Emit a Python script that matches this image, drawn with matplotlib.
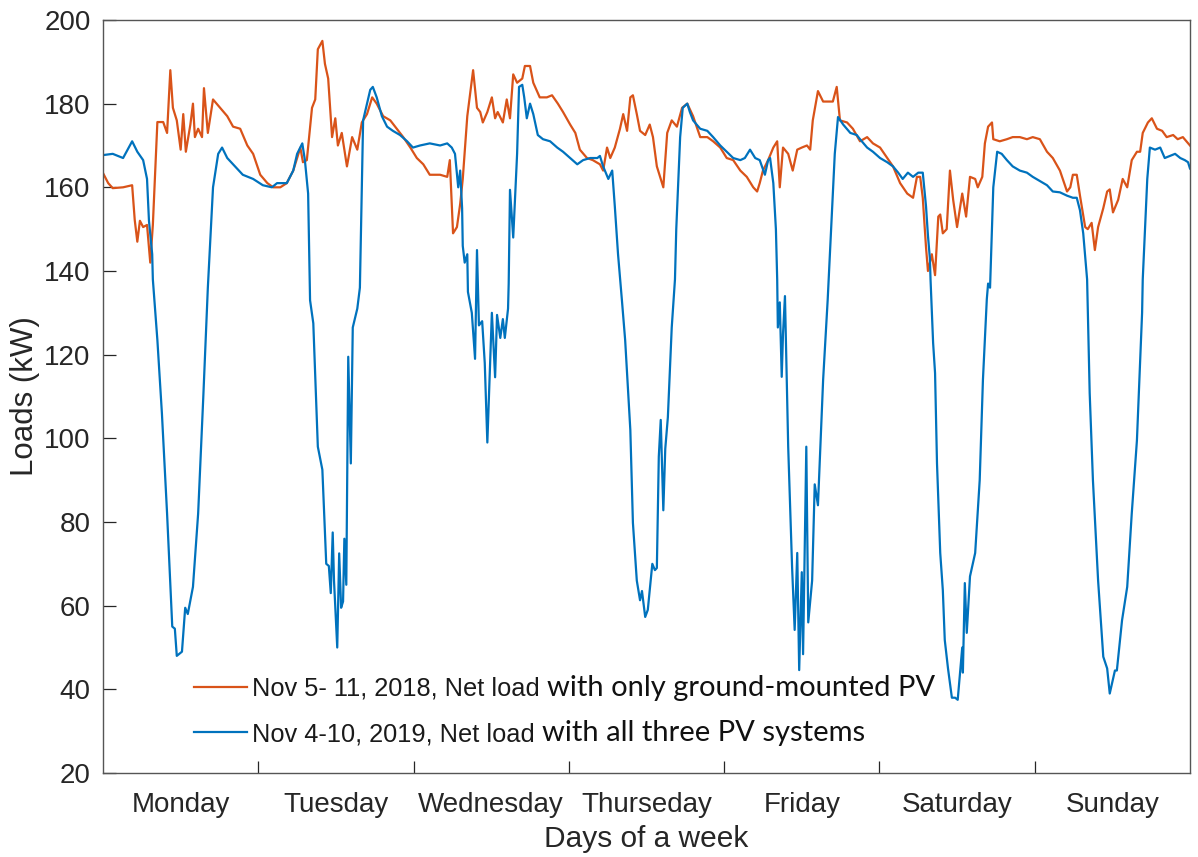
import matplotlib
matplotlib.use('Agg')
from matplotlib import pyplot as plt

# hours since Monday 00:00 and net load (kW)
hours_2018 = [0.0, 0.8, 1.5, 3.1, 4.5, 4.9, 5.3, 5.7, 6.2, 6.8, 7.3, 7.7, 8.4, 9.3, 9.9,
              10.4, 10.8, 11.4, 12.0, 12.4, 12.8, 13.5, 13.9, 14.2, 14.7, 15.3, 15.6, 16.2, 17.0, 18.1,
              19.2, 20.1, 21.2, 22.3, 23.2, 24.3, 25.4, 26.3, 27.4, 28.4, 29.4, 30.5, 30.9, 31.5, 32.3,
              32.8, 33.2, 33.9, 34.3, 34.8, 35.4, 35.9, 36.3, 36.9, 37.7, 38.5, 39.3, 40.0, 40.8, 41.6,
              42.3, 43.3, 44.4, 45.4, 46.4, 47.5, 48.5, 49.5, 50.5, 52.1, 53.2, 53.6, 54.1, 54.7, 55.2,
              55.6, 56.3, 57.2, 57.8, 58.3, 58.7, 59.4, 60.1, 60.6, 61.0, 61.8, 62.4, 62.9, 63.4, 64.0,
              64.8, 65.2, 66.0, 66.5, 67.5, 68.6, 69.4, 70.3, 71.1, 72.2, 73.0, 73.7, 74.8, 75.7, 76.8,
              77.3, 77.9, 78.4, 79.1, 79.9, 80.4, 81.0, 81.5, 81.9, 82.5, 83.0, 83.8, 84.5, 85.0, 85.6,
              86.1, 86.6, 87.2, 87.9, 88.7, 89.5, 90.3, 91.2, 92.3, 93.4, 94.3, 95.4, 96.4, 97.4, 98.5,
              99.5, 100.5, 101.1, 101.5, 102.0, 102.8, 103.6, 104.2, 104.6, 105.1, 105.9, 106.6, 107.3, 108.0, 108.8,
              109.3, 109.7, 110.5, 111.3, 112.1, 112.8, 113.4, 113.9, 115.0, 115.9, 117.0, 118.1, 119.0, 120.1, 121.2,
              122.1, 123.2, 124.3, 125.2, 125.8, 126.3, 126.7, 127.2, 127.5, 128.1, 128.6, 129.1, 129.4, 129.8, 130.4,
              130.9, 131.4, 132.0, 132.8, 133.4, 134.0, 134.8, 135.2, 135.9, 136.3, 136.8, 137.4, 137.6, 138.6, 139.7,
              140.6, 141.7, 142.8, 143.7, 144.8, 145.9, 146.8, 147.9, 149.0, 149.5, 149.9, 150.5, 151.0, 151.8, 152.2,
              152.8, 153.3, 153.8, 154.6, 155.2, 155.6, 156.1, 156.9, 157.6, 158.3, 159.0, 159.8, 160.3, 160.7, 161.5,
              162.1, 162.9, 163.7, 164.4, 165.4, 166.1, 166.9, 168.0]
load_2018 = [163.4, 161.0, 159.8, 160.0, 160.5, 152.2, 147.0, 152.0, 150.5, 151.0, 142.0, 151.0, 175.6, 175.6, 173.0,
             188.0, 179.0, 176.0, 169.0, 177.5, 168.5, 175.0, 180.0, 172.0, 174.0, 172.0, 183.7, 173.0, 181.0, 179.0,
             177.0, 174.5, 174.0, 170.0, 168.0, 163.0, 161.0, 160.0, 160.0, 161.0, 164.0, 169.5, 166.0, 166.5, 179.0,
             181.0, 193.0, 195.0, 189.5, 186.0, 172.0, 176.5, 170.0, 173.0, 165.0, 172.0, 169.0, 175.5, 177.5, 181.5,
             180.0, 177.0, 176.0, 174.0, 172.0, 169.5, 167.0, 165.5, 163.0, 163.0, 162.5, 166.5, 149.0, 150.5, 156.0,
             162.0, 177.0, 188.0, 179.0, 178.0, 175.5, 178.0, 181.5, 176.5, 178.0, 175.5, 181.0, 176.5, 187.0, 185.0,
             186.0, 189.0, 189.0, 185.0, 181.5, 181.5, 182.0, 180.0, 178.0, 175.0, 173.0, 169.0, 167.0, 166.5, 165.5,
             164.0, 169.5, 167.0, 169.5, 174.0, 177.5, 173.5, 181.5, 182.0, 177.5, 173.5, 172.5, 175.0, 172.0, 165.0,
             162.5, 160.0, 173.0, 176.0, 174.5, 179.0, 180.0, 177.0, 172.0, 172.0, 171.0, 169.5, 167.0, 166.5, 164.0,
             162.5, 160.0, 159.0, 161.0, 164.0, 166.5, 169.5, 171.0, 160.0, 169.5, 168.0, 164.0, 169.0, 169.5, 170.0,
             169.0, 176.0, 183.0, 180.5, 180.5, 180.5, 184.0, 176.0, 175.5, 174.0, 171.0, 172.0, 170.5, 169.5, 167.0,
             165.0, 161.0, 158.5, 157.5, 162.5, 162.5, 157.5, 145.7, 140.0, 144.0, 139.0, 153.0, 153.5, 149.0, 150.0,
             164.0, 157.0, 150.5, 158.5, 153.0, 162.5, 162.0, 160.0, 162.5, 170.5, 174.5, 175.5, 171.5, 171.0, 171.5,
             172.0, 172.0, 171.5, 172.0, 171.5, 168.5, 167.0, 164.0, 159.0, 160.0, 163.0, 163.0, 158.0, 150.5, 150.0,
             151.5, 145.0, 150.5, 155.0, 159.0, 159.5, 154.0, 157.0, 162.0, 160.0, 166.5, 168.5, 168.5, 173.0, 175.5,
             176.5, 174.0, 173.5, 172.0, 172.5, 171.5, 172.0, 170.0]

hours_2019 = [0.0, 1.5, 3.1, 4.5, 5.3, 6.2, 6.8, 7.1, 7.6, 7.7, 8.4, 9.1, 9.9, 10.7, 11.1,
              11.4, 12.2, 12.7, 13.1, 13.9, 14.7, 15.5, 16.2, 17.0, 17.8, 18.4, 19.2, 20.1, 21.6, 23.2,
              24.7, 26.1, 26.9, 28.4, 29.4, 30.0, 30.8, 31.2, 31.7, 32.0, 32.5, 33.2, 33.9, 34.5, 34.9,
              35.2, 35.5, 35.7, 36.2, 36.5, 36.8, 37.1, 37.3, 37.6, 37.9, 38.3, 38.6, 39.3, 39.7, 40.2,
              40.8, 41.3, 41.7, 42.3, 43.1, 43.9, 44.8, 45.9, 47.0, 47.9, 49.0, 50.5, 52.1, 53.2, 53.9,
              54.4, 54.9, 55.2, 55.5, 55.6, 55.9, 56.3, 56.4, 57.0, 57.5, 57.8, 58.1, 58.6, 59.0, 59.4,
              60.1, 60.6, 60.9, 61.4, 61.8, 62.1, 62.6, 62.7, 62.9, 63.4, 64.0, 64.3, 64.8, 65.1, 65.5,
              66.0, 66.5, 67.2, 68.0, 69.1, 70.2, 71.1, 72.2, 73.3, 74.2, 75.3, 76.4, 76.8, 77.3, 78.1,
              78.7, 79.1, 79.6, 80.2, 80.7, 81.5, 81.9, 82.5, 83.0, 83.3, 83.8, 84.2, 84.9, 85.3, 85.6,
              85.9, 86.2, 86.6, 86.9, 87.3, 87.9, 88.4, 88.6, 89.2, 89.6, 90.3, 90.7, 91.2, 92.3, 93.4,
              94.3, 95.4, 96.4, 97.4, 98.5, 99.2, 100.0, 100.8, 101.5, 102.3, 102.8, 103.1, 103.6, 104.0, 104.2,
              104.3, 104.6, 104.9, 105.1, 105.4, 105.9, 106.5, 106.9, 107.3, 107.6, 108.0, 108.2, 108.7, 109.0, 109.6,
              110.0, 110.5, 111.3, 112.0, 113.1, 113.6, 114.4, 115.5, 116.5, 117.0, 118.1, 119.0, 120.1, 121.2, 122.1,
              122.9, 123.6, 124.4, 125.2, 126.0, 126.7, 127.2, 127.5, 127.8, 127.9, 128.3, 128.6, 128.9, 129.4, 129.8,
              130.1, 130.6, 131.2, 131.7, 132.1, 132.8, 132.9, 133.2, 133.5, 134.0, 134.8, 135.5, 136.0, 136.6, 136.8,
              137.1, 137.6, 138.2, 138.9, 139.7, 140.6, 141.7, 142.8, 143.7, 144.8, 145.9, 146.8, 147.9, 149.0, 149.9,
              150.5, 151.0, 151.5, 152.1, 152.5, 153.0, 153.8, 154.6, 155.2, 155.6, 156.4, 156.7, 157.5, 158.3, 159.0,
              159.8, 160.6, 160.7, 161.4, 161.8, 162.6, 163.4, 164.1, 164.9, 165.7, 166.5, 167.2, 167.7, 168.0]
load_2019 = [167.7, 168.0, 167.0, 171.0, 168.5, 166.5, 162.0, 152.0, 144.0, 138.0, 123.5, 106.0, 82.0, 55.0, 54.5,
             48.0, 49.0, 59.5, 58.0, 64.5, 82.0, 110.0, 136.0, 160.0, 168.0, 169.5, 167.0, 165.5, 163.0, 162.0,
             160.5, 160.0, 161.0, 161.0, 164.0, 168.0, 170.5, 166.5, 158.5, 133.0, 127.5, 98.0, 92.5, 70.0, 69.5,
             63.0, 77.5, 66.0, 50.0, 72.5, 59.5, 61.0, 76.0, 65.0, 119.5, 94.0, 126.5, 131.0, 136.0, 176.0,
             180.0, 183.3, 184.0, 181.5, 177.0, 174.5, 173.5, 172.5, 171.0, 169.5, 170.0, 170.5, 170.0, 170.5, 169.5,
             168.0, 160.0, 164.0, 155.0, 146.0, 142.0, 144.0, 135.0, 130.0, 119.0, 145.0, 127.0, 128.0, 118.0, 99.0,
             130.0, 114.6, 129.5, 124.0, 128.5, 124.0, 131.0, 137.0, 159.4, 148.0, 168.0, 184.0, 184.5, 181.5, 176.5,
             180.0, 177.5, 172.5, 171.5, 171.0, 169.5, 168.5, 167.0, 165.5, 166.5, 167.0, 167.0, 167.5, 165.0, 162.0,
             164.0, 155.5, 144.0, 133.0, 123.5, 102.0, 79.8, 66.0, 61.3, 63.5, 57.3, 59.0, 70.0, 68.5, 69.0,
             95.6, 104.4, 82.8, 97.5, 105.0, 126.5, 138.0, 150.0, 172.0, 179.0, 180.0, 178.0, 176.0, 174.0, 173.5,
             172.0, 170.0, 168.5, 167.0, 166.5, 167.0, 169.0, 167.0, 166.5, 163.0, 166.5, 167.0, 161.0, 150.0, 138.0,
             126.5, 132.5, 114.7, 125.0, 134.0, 98.0, 69.3, 54.2, 72.6, 44.6, 68.0, 48.4, 98.0, 56.0, 66.0,
             89.0, 84.0, 114.0, 133.0, 168.0, 176.8, 175.0, 173.0, 172.5, 171.5, 169.5, 168.5, 167.0, 166.0, 165.0,
             163.5, 162.0, 163.5, 162.5, 163.5, 163.5, 155.5, 148.5, 143.0, 138.0, 122.8, 115.6, 94.0, 72.6, 63.7,
             51.8, 45.0, 38.0, 38.0, 37.5, 50.0, 44.0, 65.4, 53.5, 67.0, 72.6, 90.0, 114.0, 133.3, 137.0,
             136.0, 160.0, 168.5, 168.0, 166.5, 165.0, 164.0, 163.5, 162.5, 161.5, 160.5, 159.0, 158.8, 158.0, 157.5,
             157.5, 154.5, 149.0, 138.0, 110.8, 90.0, 66.0, 47.8, 45.0, 39.0, 44.5, 44.5, 56.5, 64.5, 82.0,
             99.5, 130.0, 138.0, 162.0, 169.5, 169.0, 169.5, 167.0, 167.5, 168.0, 167.0, 166.5, 166.0, 164.5]

days = ['Monday', 'Tuesday', 'Wednesday', 'Thurseday', 'Friday', 'Saturday', 'Sunday']
label_2018 = ('Nov 5- 11, 2018, Net load', 'with only ground-mounted PV')
label_2019 = ('Nov 4-10, 2019, Net load', 'with all three PV systems')

ORANGE = '#D95319'
BLUE = '#0072BD'
AX_COL = '#262626'

plt.rcParams['font.family'] = ['Liberation Sans', 'DejaVu Sans']

fig = plt.figure(figsize=(11.98, 8.57), dpi=100)
ax = fig.add_axes([0.086, 0.098, 0.9073, 0.8787])

ax.plot(hours_2018, load_2018, color=ORANGE, linewidth=1.6, label=label_2018[0])
ax.plot(hours_2019, load_2019, color=BLUE, linewidth=1.6, label=label_2019[0])

ax.set_xlim(0, 168)
ax.set_ylim(20, 200)
ax.set_yticks(range(20, 201, 20))

# day boundaries as major ticks, day names centred as minor tick labels
ax.set_xticks([24 * i for i in range(1, 7)])
ax.set_xticklabels([])
ax.set_xticks([24 * i + 12 for i in range(7)], minor=True)
ax.set_xticklabels(days, minor=True)
ax.tick_params(axis='x', which='minor', length=0, pad=14, labelsize=20, labelcolor=AX_COL)
ax.tick_params(axis='x', which='major', direction='in', length=9, width=0.9, color=AX_COL)
ax.tick_params(axis='y', direction='in', length=9, width=0.9, color=AX_COL,
               labelsize=20, labelcolor=AX_COL, pad=9)

for s in ax.spines.values():
    s.set_color('#555555')
    s.set_linewidth(1.0)

ax.set_xlabel('Days of a week', fontsize=21.5, color=AX_COL, labelpad=5)
ax.set_ylabel('Loads (kW)', fontsize=22.5, color=AX_COL, labelpad=3)

leg = ax.legend(loc='lower left', bbox_to_anchor=(0.067, 0.012), frameon=False,
                fontsize=18.3, handlelength=2.1, handletextpad=0.2, labelspacing=0.85,
                borderpad=0.2)
for t in leg.get_texts():
    t.set_color('#1a1a1a')

# second half of each legend entry is set in a different typeface
fig.canvas.draw()
renderer = fig.canvas.get_renderer()
for t, extra in zip(leg.get_texts(), [label_2018[1], label_2019[1]]):
    bb = t.get_window_extent(renderer)
    fig.text((bb.x1 + 7) / fig.bbox.width, bb.y0 / fig.bbox.height, extra,
             ha='left', va='bottom', fontsize=21, family=['Lato', 'DejaVu Sans'],
             color='#111111')

fig.savefig('out.png', dpi=100)
